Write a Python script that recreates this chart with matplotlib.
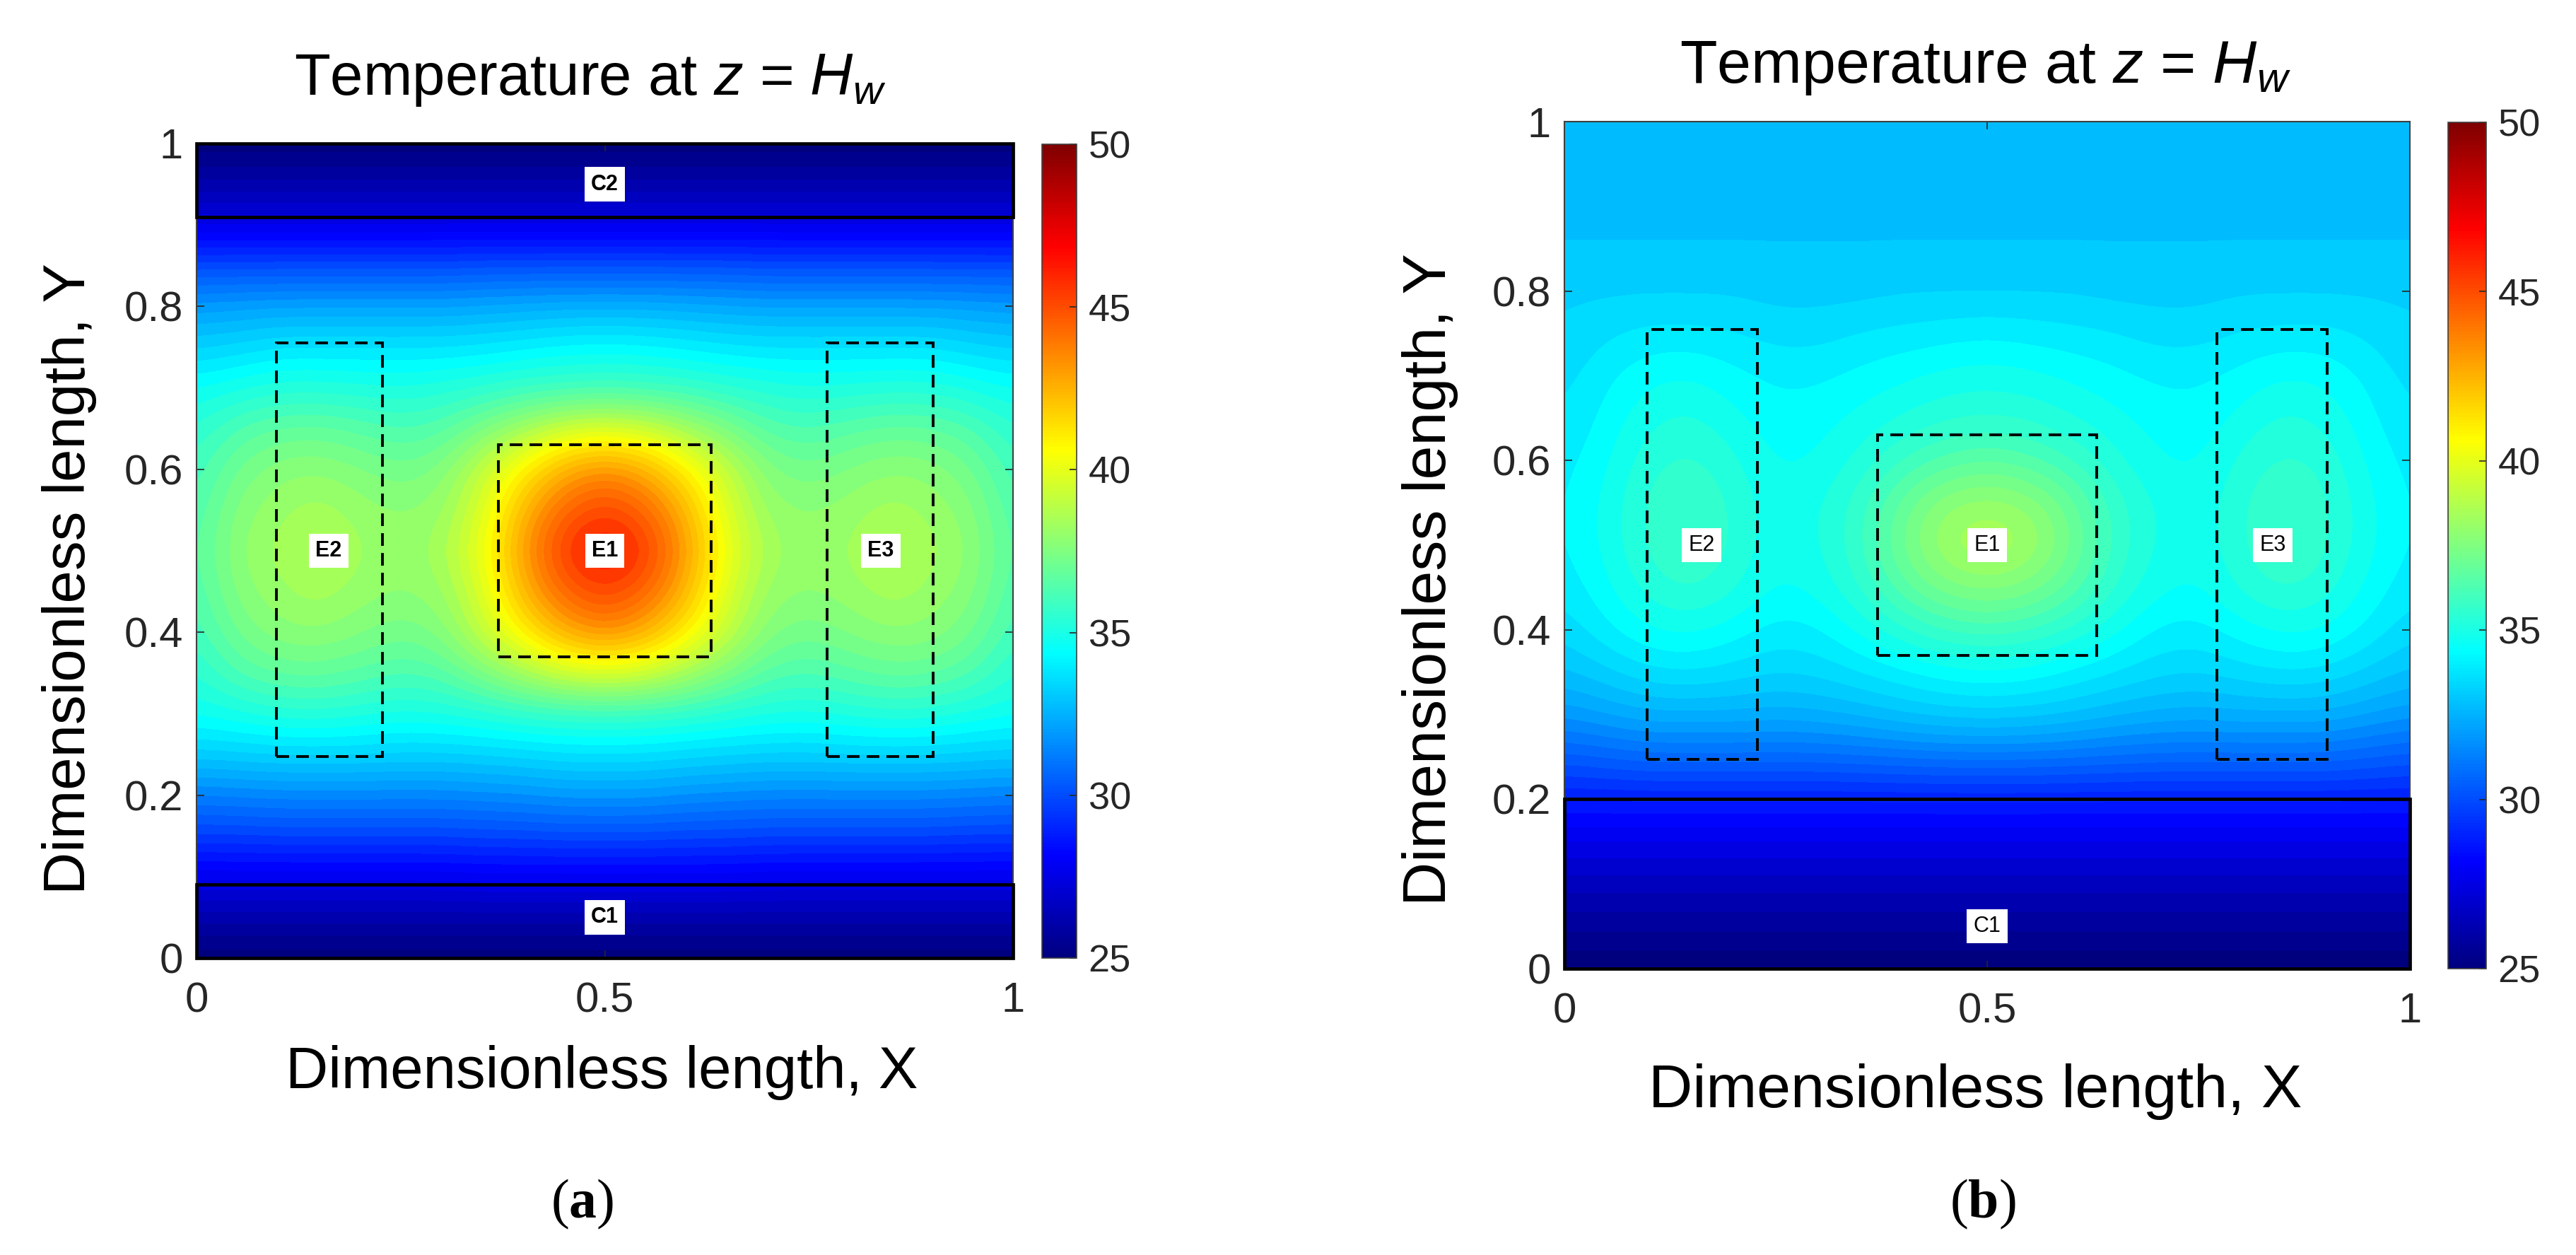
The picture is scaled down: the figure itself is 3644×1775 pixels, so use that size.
#!/usr/bin/env python3
'''
Temperature maps at z = Hw, two cooling layouts, side by side
'''
import numpy as np
import matplotlib
matplotlib.use('Agg')
import matplotlib.pyplot as plt
from matplotlib.colors import BoundaryNorm, Normalize, LinearSegmentedColormap
from matplotlib.cm import ScalarMappable
from matplotlib.patches import Rectangle

plt.rcParams['font.family'] = ['Liberation Sans', 'DejaVu Sans']
plt.rcParams['mathtext.fontset'] = 'custom'
plt.rcParams['mathtext.rm'] = 'Liberation Sans'
plt.rcParams['mathtext.it'] = 'Liberation Sans:italic'
plt.rcParams['mathtext.bf'] = 'Liberation Serif:bold'

# temperatures, rows bottom to top (Y = 0, 0.05 .. 1),
# columns X = 0, 0.05 .. 0.5 (both maps are mirrored about X = 0.5)
temp_a = [
    [25.0, 25.0, 25.0, 25.0, 25.0, 25.0, 25.0, 25.0, 25.0, 25.0, 25.0],
    [26.4, 26.4, 26.4, 26.4, 26.4, 26.4, 26.4, 26.4, 26.4, 26.4, 26.4],
    [27.9, 27.9, 27.9, 27.9, 27.9, 27.9, 27.9, 28.0, 28.0, 28.0, 28.0],
    [29.8, 29.8, 29.9, 29.9, 29.9, 29.9, 29.9, 30.0, 30.0, 30.1, 30.1],
    [31.4, 31.5, 31.6, 31.6, 31.6, 31.6, 31.6, 31.7, 31.8, 32.0, 32.0],
    [33.3, 33.4, 33.5, 33.5, 33.5, 33.4, 33.4, 33.5, 33.6, 33.8, 33.8],
    [34.8, 35.0, 35.3, 35.4, 35.2, 35.0, 35.1, 35.3, 35.6, 35.7, 35.8],
    [35.4, 36.4, 36.8, 36.9, 36.6, 36.3, 36.5, 37.5, 38.5, 39.5, 39.8],
    [36.0, 37.2, 37.8, 37.9, 37.6, 37.2, 37.6, 39.2, 40.9, 42.6, 43.4],
    [36.3, 37.7, 38.2, 38.6, 38.1, 37.9, 38.1, 39.7, 42.4, 44.4, 45.3],
    [36.5, 37.9, 38.5, 38.9, 38.4, 38.0, 38.5, 40.2, 43.0, 45.5, 46.5],
    [36.3, 37.7, 38.2, 38.6, 38.1, 37.9, 38.1, 39.7, 42.4, 44.4, 45.3],
    [36.0, 37.2, 37.8, 37.9, 37.6, 37.2, 37.6, 39.2, 40.9, 42.6, 43.4],
    [35.5, 36.4, 36.8, 36.9, 36.6, 36.3, 36.5, 37.5, 38.5, 39.5, 39.8],
    [34.7, 35.0, 35.3, 35.3, 35.2, 35.1, 35.3, 35.5, 35.8, 35.9, 36.0],
    [33.4, 33.6, 33.9, 33.9, 33.9, 33.9, 33.9, 34.0, 34.2, 34.4, 34.5],
    [32.1, 32.2, 32.3, 32.3, 32.3, 32.3, 32.3, 32.4, 32.5, 32.6, 32.6],
    [30.1, 30.1, 30.1, 30.1, 30.1, 30.1, 30.1, 30.2, 30.2, 30.2, 30.2],
    [27.7, 27.7, 27.7, 27.7, 27.7, 27.7, 27.7, 27.7, 27.7, 27.7, 27.7],
    [26.4, 26.4, 26.4, 26.4, 26.4, 26.4, 26.4, 26.4, 26.4, 26.4, 26.4],
    [25.0, 25.0, 25.0, 25.0, 25.0, 25.0, 25.0, 25.0, 25.0, 25.0, 25.0],
]
temp_b = [
    [25.0, 25.0, 25.0, 25.0, 25.0, 25.0, 25.0, 25.0, 25.0, 25.0, 25.0],
    [25.9, 25.9, 25.9, 25.9, 25.9, 25.9, 25.9, 25.9, 25.9, 25.9, 25.9],
    [26.8, 26.8, 26.8, 26.8, 26.8, 26.8, 26.8, 26.8, 26.8, 26.8, 26.8],
    [27.8, 27.8, 27.8, 27.8, 27.8, 27.8, 27.8, 27.8, 27.8, 27.8, 27.8],
    [29.0, 29.0, 29.0, 29.0, 29.0, 29.0, 29.0, 29.0, 29.0, 29.0, 29.0],
    [30.5, 30.7, 30.9, 30.9, 30.9, 30.9, 30.9, 31.0, 31.1, 31.2, 31.2],
    [32.0, 32.3, 32.6, 32.6, 32.6, 32.5, 32.6, 32.8, 33.1, 33.3, 33.4],
    [33.0, 33.4, 33.8, 33.9, 33.7, 33.5, 33.6, 33.9, 34.2, 34.5, 34.6],
    [33.6, 34.2, 34.7, 34.8, 34.5, 34.1, 34.2, 34.8, 35.4, 35.9, 36.1],
    [34.0, 34.6, 35.3, 35.6, 35.2, 34.6, 34.8, 35.5, 36.6, 37.4, 37.7],
    [34.2, 34.8, 35.6, 36.1, 35.4, 34.8, 35.0, 35.8, 37.2, 38.4, 38.9],
    [34.2, 34.8, 35.6, 36.0, 35.4, 34.8, 35.0, 35.7, 36.9, 37.9, 38.2],
    [34.1, 34.6, 35.4, 35.6, 35.2, 34.6, 34.7, 35.2, 35.9, 36.4, 36.7],
    [33.9, 34.4, 35.0, 35.2, 34.8, 34.4, 34.5, 34.8, 35.1, 35.4, 35.5],
    [33.7, 34.2, 34.6, 34.7, 34.4, 34.2, 34.2, 34.4, 34.6, 34.8, 34.9],
    [33.5, 33.8, 34.0, 34.0, 33.9, 33.7, 33.7, 33.9, 34.0, 34.1, 34.2],
    [33.4, 33.4, 33.4, 33.4, 33.4, 33.3, 33.3, 33.3, 33.4, 33.4, 33.4],
    [33.1, 33.1, 33.1, 33.1, 33.1, 33.1, 33.1, 33.1, 33.1, 33.1, 33.1],
    [32.9, 32.9, 32.9, 32.9, 32.9, 32.9, 32.9, 32.9, 32.9, 32.9, 32.9],
    [32.8, 32.8, 32.8, 32.8, 32.8, 32.8, 32.8, 32.8, 32.8, 32.8, 32.8],
    [32.7, 32.7, 32.7, 32.7, 32.7, 32.7, 32.7, 32.7, 32.7, 32.7, 32.7],
]

x_ticks = [0, 0.5, 1]
x_ticklabels = ['0', '0.5', '1']
y_ticks = [0, 0.2, 0.4, 0.6, 0.8, 1]
y_ticklabels = ['0', '0.2', '0.4', '0.6', '0.8', '1']
cbar_ticks = [25, 30, 35, 40, 45, 50]

# evaporators, dashed: name, x0, x1, y0, y1, label x, label y
evaporators = [
    ('E1', 0.37, 0.63, 0.37, 0.63, 0.5, 0.5),
    ('E2', 0.098, 0.228, 0.247, 0.755, 0.162, 0.5),
    ('E3', 0.772, 0.902, 0.247, 0.755, 0.838, 0.5),
]
# condensers, solid
condensers_a = [
    ('C1', 0, 1, 0, 0.09, 0.5, 0.05),
    ('C2', 0, 1, 0.91, 1, 0.5, 0.95),
]
condensers_b = [
    ('C1', 0, 1, 0, 0.2, 0.5, 0.05),
]

W, H = 3644, 1775
DPI = 100
TEXT_COL = '#262626'

# same jet as the original software (its stops differ a bit from matplotlib's)
matlab_jet = LinearSegmentedColormap.from_list('matlab_jet', [
    (0.0, (0, 0, 0.5)), (0.125, (0, 0, 1)), (0.375, (0, 1, 1)),
    (0.625, (1, 1, 0)), (0.875, (1, 0, 0)), (1.0, (0.5, 0, 0))], N=256)


def px_axes(fig, left, right, top, bottom):
    return fig.add_axes([left/W, 1-bottom/H, (right-left)/W, (bottom-top)/H])


def px_text(fig, x, y, s, **kw):
    # y is the baseline in image pixels
    return fig.text(x/W, 1-y/H, s, va='baseline', **kw)


def plot_panel(fig, temps, condensers, box, cbar_box, label_weight):
    ax = px_axes(fig, *box)
    half = np.array(temps)
    full = np.hstack([half, half[:, -2::-1]])
    levels = np.linspace(25, 50, 63)
    norm = BoundaryNorm(levels, 256, clip=True)
    ny, nx = full.shape
    dx, dy = 0.5/(nx-1), 0.5/(ny-1)
    ax.imshow(full, origin='lower', cmap=matlab_jet, norm=norm, aspect='auto',
              interpolation='bicubic', interpolation_stage='data',
              extent=[-dx, 1+dx, -dy, 1+dy])
    ax.set_xlim(0, 1)
    ax.set_ylim(0, 1)
    ax.set_xticks(x_ticks)
    ax.set_xticklabels(x_ticklabels)
    ax.set_yticks(y_ticks)
    ax.set_yticklabels(y_ticklabels)
    ax.tick_params(axis='x', direction='in', top=True, length=8, width=1.2,
                   color=TEXT_COL, labelsize=43, labelcolor=TEXT_COL, pad=24)
    ax.tick_params(axis='y', direction='in', right=True, length=8, width=1.2,
                   color=TEXT_COL, labelsize=43, labelcolor=TEXT_COL, pad=14)
    for sp in ax.spines.values():
        sp.set_color('#404040')
        sp.set_linewidth(1.5)

    for name, x0, x1, y0, y1, lx, ly in evaporators:
        ax.add_patch(Rectangle((x0, y0), x1-x0, y1-y0, fill=False, ec='k', lw=2.8,
                               ls=(0, (4.6, 2.6)), zorder=5))
        ax.text(lx, ly, name, ha='center', va='center', fontsize=22, color='k',
                fontweight=label_weight, zorder=6,
                bbox=dict(boxstyle='square,pad=0.3', fc='white', ec='none'))
    for name, x0, x1, y0, y1, lx, ly in condensers:
        ax.add_patch(Rectangle((x0, y0), x1-x0, y1-y0, fill=False, ec='k', lw=3.4,
                               clip_on=False, zorder=5))
        ax.text(lx, ly, name, ha='center', va='center', fontsize=22, color='k',
                fontweight=label_weight, zorder=6,
                bbox=dict(boxstyle='square,pad=0.3', fc='white', ec='none'))

    cax = px_axes(fig, *cbar_box)
    cb = fig.colorbar(ScalarMappable(norm=Normalize(25, 50), cmap=matlab_jet), cax=cax)
    cb.set_ticks(cbar_ticks)
    cax.tick_params(direction='in', length=7, width=1.2, color=TEXT_COL,
                    labelsize=39, labelcolor=TEXT_COL, pad=12)
    cb.outline.set_edgecolor('#404040')
    cb.outline.set_linewidth(1.2)
    return ax


fig = plt.figure(figsize=(W/DPI, H/DPI), dpi=DPI, facecolor='white')

plot_panel(fig, temp_a, condensers_a, (278, 1433, 203, 1355), (1474, 1523, 204, 1355), 'bold')
plot_panel(fig, temp_b, condensers_b, (2213, 3409, 172, 1370), (3463, 3517, 173, 1370), 'normal')

title = 'Temperature at $\\mathit{z}$ = $\\mathit{H_w}$'
px_text(fig, 835, 134, title, ha='center', fontsize=60, color='k')
px_text(fig, 2808, 117, title, ha='center', fontsize=62, color='k')

xlabel = 'Dimensionless length, X'
ylabel = 'Dimensionless length, Y'
px_text(fig, 851, 1539, xlabel, ha='center', fontsize=60, color='k')
px_text(fig, 2794, 1566, xlabel, ha='center', fontsize=62, color='k')
fig.text(120/W, 1-819/H, ylabel, rotation=90, ha='center', va='baseline',
         rotation_mode='anchor', fontsize=60, color='k')
fig.text(2045/W, 1-820/H, ylabel, rotation=90, ha='center', va='baseline',
         rotation_mode='anchor', fontsize=62, color='k')

px_text(fig, 824, 1722, '($\\mathbf{a}$)', ha='center', fontsize=56, color='k',
        family='Liberation Serif')
px_text(fig, 2805, 1722, '($\\mathbf{b}$)', ha='center', fontsize=56, color='k',
        family='Liberation Serif')

fig.savefig('out.png', dpi=DPI, facecolor='white')
